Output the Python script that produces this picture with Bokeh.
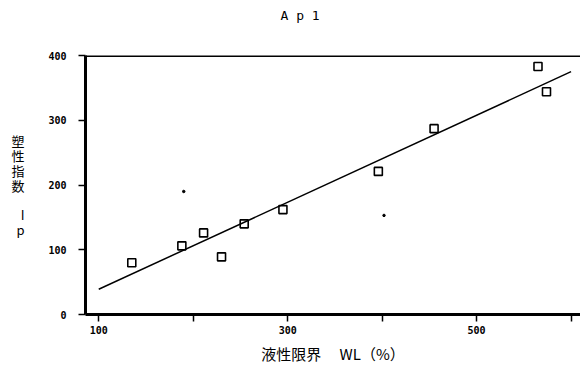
from bokeh.plotting import figure
from bokeh.models import Range1d, FixedTicker, Span
from bokeh.embed import file_html
from bokeh.resources import INLINE

# data
wl = [135, 188, 211, 230, 254, 295, 396, 455, 565, 574]
ip = [80, 106, 126, 89, 140, 162, 221, 287, 383, 344]
fit_x = [100, 600]
fit_y = [39, 375]
stray_x = [190, 402]
stray_y = [190, 153]
x_ticks = [100, 200, 300, 400, 500, 600]
x_tick_labels = {200: "", 400: "", 600: ""}
y_ticks = [0, 100, 200, 300, 400]

p = figure(width=580, height=375, output_backend="svg", toolbar_location=None,
           x_range=Range1d(86, 610), y_range=Range1d(0, 400),
           min_border_left=85, min_border_right=0, min_border_top=55, min_border_bottom=61)
p.outline_line_color = None
p.grid.visible = False
p.background_fill_color = "white"
p.border_fill_color = "white"

p.title.text = "A p 1\n \n "
p.title.align = "left"
p.title.offset = 195
p.title.standoff = 2
p.title.vertical_align = "top"
p.title.text_font = "DejaVu Sans Mono"
p.title.text_font_size = "13px"
p.title.text_font_style = "normal"
p.title.text_color = "black"

for ax in (p.xaxis[0], p.yaxis[0]):
    ax.axis_line_width = 3
    ax.axis_line_color = "black"
    ax.major_tick_line_width = 1.5
    ax.major_tick_in = 0
    ax.major_tick_out = 7
    ax.minor_tick_line_color = None
    ax.major_label_text_font = "DejaVu Sans Mono"
    ax.major_label_text_font_style = "bold"
    ax.major_label_text_font_size = "10px"
    ax.major_label_text_color = "black"
    ax.axis_label_text_font = "Noto Sans CJK JP"
    ax.axis_label_text_font_style = "normal"
    ax.axis_label_text_color = "black"

p.xaxis.ticker = FixedTicker(ticks=x_ticks)
p.xaxis.major_label_overrides = x_tick_labels
p.xaxis.major_label_standoff = 4
p.xaxis.axis_label = "液性限界　 WL（%）"
p.xaxis.axis_label_text_font_size = "15px"
p.xaxis.axis_label_standoff = 6

p.yaxis.ticker = FixedTicker(ticks=y_ticks)
p.yaxis.major_label_standoff = 12
p.yaxis.axis_label = "塑\n性\n指\n数\n\nI\np"
p.yaxis.axis_label_orientation = "horizontal"
p.yaxis.axis_label_text_font_size = "13px"
p.yaxis.axis_label_text_line_height = 0.78
p.yaxis.axis_label_standoff = 21

p.add_layout(Span(location=400, dimension="width", line_color="black", line_width=3))

p.line(fit_x, fit_y, line_color="black", line_width=1.5)
p.scatter(wl, ip, marker="square", size=8, line_color="black", line_width=1.6,
          fill_color="white", fill_alpha=0)
p.scatter(stray_x, stray_y, marker="circle", size=2.5, color="black")

open("out.html", "w").write(file_html(p, INLINE))
